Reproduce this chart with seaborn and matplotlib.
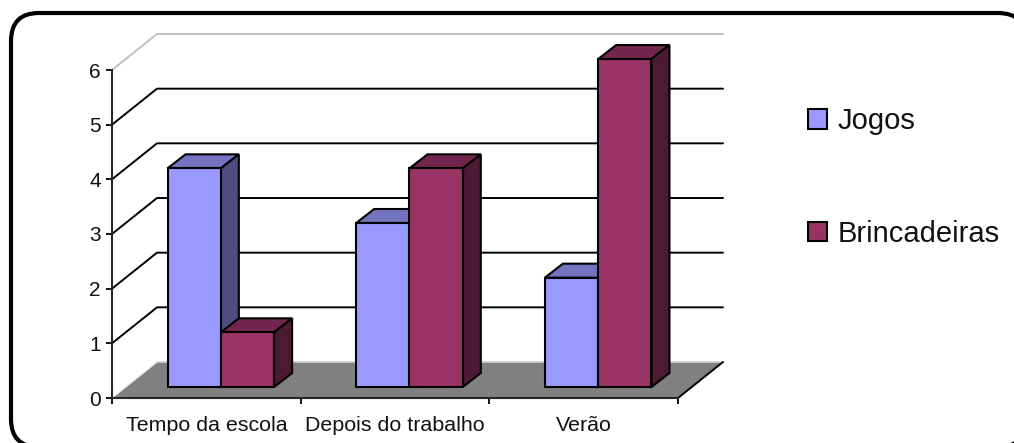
import matplotlib
matplotlib.use("Agg")
import matplotlib.pyplot as plt
from matplotlib.patches import FancyBboxPatch, Patch
from matplotlib.transforms import Affine2D
import pandas as pd
import seaborn as sns

categories = ["Tempo da escola", "Depois do trabalho", "Verão"]
jogos = [4, 3, 2]
brincadeiras = [1, 4, 6]
y_ticks = [0, 1, 2, 3, 4, 5, 6]

front_colors = {"Jogos": "#9999FF", "Brincadeiras": "#993366"}
top_colors = {"Jogos": "#7373BF", "Brincadeiras": "#73264D"}
side_colors = {"Jogos": "#4D4D80", "Brincadeiras": "#4D1A33"}

sns.set_style("white")
plt.rcParams["font.family"] = ["Liberation Sans", "DejaVu Sans"]

W, H = 1014, 443
fig = plt.figure(figsize=(W / 100, H / 100), dpi=100)

# rounded frame, runs off the right and bottom of the picture
bg = fig.add_axes([0, 0, 1, 1], zorder=0)
bg.set_xlim(0, W)
bg.set_ylim(H, 0)
bg.axis("off")
bg.add_patch(FancyBboxPatch((11, 13), 1015, 434, boxstyle="round,pad=0,rounding_size=28",
                            fc="white", ec="black", lw=3.0))

# front plane of the fake 3d box
x0, x1, y_top, y_bot = 112, 678, 70, 398
ax = fig.add_axes([x0 / W, 1 - y_bot / H, (x1 - x0) / W, (y_bot - y_top) / H], zorder=1)
ax.patch.set_alpha(0)

df = pd.DataFrame({
    "categoria": categories * 2,
    "valor": jogos + brincadeiras,
    "serie": ["Jogos"] * 3 + ["Brincadeiras"] * 3,
})
sns.barplot(data=df, x="categoria", y="valor", hue="serie", palette=front_colors, width=0.565,
            saturation=1, edgecolor="black", linewidth=1.5, legend=False, ax=ax, zorder=5)
bars = [b for c in ax.containers for b in c]

ax.set_xlim(-0.5, 2.5)
ax.set_ylim(0, 6)

# pixel offsets turned into data units
px_x = 3 / (x1 - x0)
px_y = 6 / (y_bot - y_top)
wall_dx, wall_dy = 45 * px_x, 36 * px_y
bar_dx, bar_dy = 14.5 * px_x, 11 * px_y
depth_dx, depth_dy = 18 * px_x, 14 * px_y

# floor
ax.fill([-0.5, -0.5 + wall_dx, 2.5 + wall_dx, 2.5], [0, wall_dy, wall_dy, 0], color="#808080", lw=0,
        zorder=1, clip_on=False)
ax.plot([-0.5, -0.5 + wall_dx], [0, wall_dy], color="#E8E8E8", lw=1.0, zorder=2, clip_on=False)
ax.plot([-0.5 + wall_dx, 2.5 + wall_dx], [wall_dy, wall_dy], color="#D0D0D0", lw=1.2, zorder=1, clip_on=False)
ax.plot([2.5, 2.5 + wall_dx], [0, wall_dy], color="black", lw=1.4, zorder=2, clip_on=False)

# back wall lines
for v in y_ticks[1:]:
    c = "#C0C0C0" if v == y_ticks[-1] else "black"
    ax.plot([-0.5, -0.5 + wall_dx, 2.5 + wall_dx], [v, v + wall_dy, v + wall_dy], color=c, lw=1.4,
            zorder=2, clip_on=False)

# move the bars into the middle of the box and add top and side faces
shift = Affine2D().translate(bar_dx, bar_dy) + ax.transData
series = ["Jogos"] * 3 + ["Brincadeiras"] * 3
for n, (bar, name) in enumerate(zip(bars, series)):
    z = 5 + n % 3 * 2 + (0.5 if name == "Brincadeiras" else 0)
    bar.set_transform(shift)
    bar.set_zorder(z + 0.2)
    bar.set_clip_on(False)
    left, w, h = bar.get_x(), bar.get_width(), bar.get_height()
    ax.fill([left, left + depth_dx, left + w + depth_dx, left + w],
            [h, h + depth_dy, h + depth_dy, h], fc=top_colors[name], ec="black", lw=1.5,
            transform=shift, zorder=z, clip_on=False)
    ax.fill([left + w, left + w + depth_dx, left + w + depth_dx, left + w],
            [0, depth_dy, h + depth_dy, h], fc=side_colors[name], ec="black", lw=1.5,
            transform=shift, zorder=z, clip_on=False)

# ticks on category boundaries, labels between them
sns.despine(ax=ax)
for s in ["left", "bottom"]:
    ax.spines[s].set_linewidth(1.5)
    ax.spines[s].set_zorder(4)
ax.set_yticks(y_ticks)
ax.set_xticks([-0.5, 0.5, 1.5, 2.5])
ax.set_xticklabels([])
ax.set_xticks([0, 1, 2], categories, minor=True)
ax.tick_params(axis="x", which="major", length=4, width=1.3, bottom=True, color="black")
ax.tick_params(axis="x", which="minor", length=0, pad=13, labelsize=15.4, labelcolor="#111111")
ax.tick_params(axis="y", length=4, width=1.3, left=True, color="black", pad=4, labelsize=15,
               labelcolor="#111111")
ax.set_xlabel("")
ax.set_ylabel("")

handles = [Patch(fc=front_colors[k], ec="black", lw=1.5, label=k) for k in front_colors]
fig.legend(handles=handles, loc="upper left", bbox_to_anchor=(808 / W, 1 - 107 / H), frameon=False,
           fontsize=21, labelcolor="#111111", handlelength=0.66, handleheight=0.66,
           handletextpad=0.35, labelspacing=2.9, borderpad=0, borderaxespad=0)

fig.savefig("out.png", dpi=100)
